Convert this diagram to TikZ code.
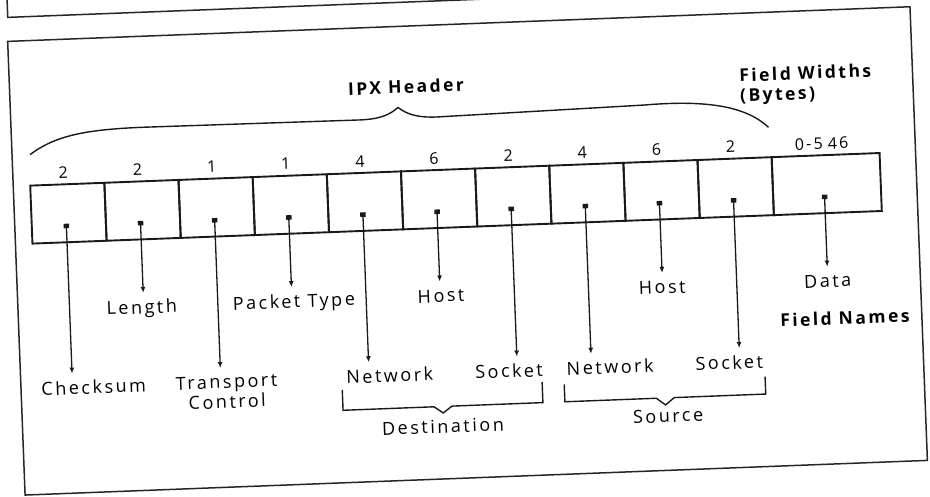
\documentclass[tikz,border=0pt]{standalone}
\usepackage{fontspec}
\setmainfont{Open Sans}[LetterSpace=14]
\usetikzlibrary{arrows.meta}
\begin{document}
\begin{tikzpicture}[x=1pt,y=-1pt,
  frame/.style={line width=1.5pt, draw=black!85},
  cell/.style={draw=black!90, line width=1.9pt, minimum height=58pt, inner sep=0pt},
  pdot/.style={fill=black!90, inner sep=0pt, minimum width=5.5pt, minimum height=4.5pt},
  lbl/.style={font=\fontsize{18}{20}\selectfont, inner sep=0pt, text height=13pt, align=center, anchor=north},
  num/.style={font=\fontsize{16}{18}\selectfont, inner sep=0pt, anchor=base},
  ttl/.style={font=\bfseries\fontsize{17.5}{20}\selectfont, inner sep=0pt, align=left},
  ptr/.style={draw=black!90, line width=1.3pt, -{Latex[length=6pt,width=5pt]}},
  brk/.style={draw=black!90, line width=1.4pt}]
\useasboundingbox (0,0) rectangle (930,497);
\clip (0,0) rectangle (930,497);
\begin{scope}[rotate around={2.2:(465,250)}, transform shape]
% frames
\draw[frame] (17,-60) -- (17,0) -- (1000,0);
\draw[frame] (16,24) rectangle (919,478);
% cells
\foreach \i/\x/\w in {1/70.1/74.2, 2/144.3/74.2, 3/218.5/74.2, 4/292.7/74.2, 5/366.9/74.2, 6/441.1/74.2, 7/515.3/74.2, 8/589.5/74.2, 9/663.7/74.2, 10/737.9/74.2, 11/829/108}
  \node[cell, minimum width=\w pt] (c\i) at (\x,198) {};
% widths
\foreach \i/\t in {1/2, 2/2, 3/1, 4/1, 5/4, 6/6, 7/2, 8/4, 9/6, 10/2}
  \node[num] (n\i) at ([xshift=-3.5pt]c\i.center |- 0,163) {\t};
\node[num] (n11) at ([xshift=-3.5pt]c11.center |- 0,163) {0-5\hspace{5pt}46};
% dots
\foreach \i in {1,...,11}
  \node[pdot] (d\i) at ([xshift=-2.5pt]c\i.center |- 0,210.7) {};
% labels
\node[lbl] (l1) at (88.7,366) {Checksum};
\node[lbl] (l2) at (139.8,288) {Length};
\node[lbl, text height=] (l3) at (221.6,366) {Transport\\Control};
\node[lbl] (l4) at (292,288) {Packet Type};
\node[lbl] (l5) at (385,366) {Network};
\node[lbl] (l6) at (439.3,288) {Host};
\node[lbl] (l7) at (504.4,366) {Socket};
\node[lbl] (l8) at (605.5,366) {Network};
\node[lbl] (l9) at (660.6,288) {Host};
\node[lbl] (l10) at (724.7,366) {Socket};
\node[lbl] (l11) at (826.3,288) {Data};
% arrows
\foreach \i in {1,...,11}
  \draw[ptr, shorten >=7.5pt] (d\i.center) -- (d\i.center |- l\i.north);
% titles
\node[ttl, anchor=base] (ipx) at (412.3,91) {IPX Header};
\node[ttl, anchor=north west] (fw) at (745.7,79) {Field Widths\\(Bytes)};
\node[ttl, anchor=base] (fn) at (842,339) {Field Names};
\node[lbl, anchor=base, text height=] (dst) at (436.2,432) {Destination};
\node[lbl, anchor=base, text height=] (src) at (661.6,430) {Source};
% brace
\draw[brk] (34,138) .. controls (60,120) and (90,115) .. (150,115)
  -- (365,116) .. controls (385,116) and (395,112) .. (403.5,105)
  .. controls (412,112) and (422,116) .. (442,116)
  -- (650,112) .. controls (715,109) and (752,118) .. (773,139);
% brackets
\draw[brk] (337,385) -- (337,405.5) -- (428,405.5) -- (437,412) -- (446,405.5) -- (537,405.5) -- (537,385);
\draw[brk] (559,388) -- (559,405.5) -- (650.5,405.5) -- (659.5,412.5) -- (668.5,405.5) -- (760,405.5) -- (760,388);
\end{scope}
\end{tikzpicture}
\end{document}
